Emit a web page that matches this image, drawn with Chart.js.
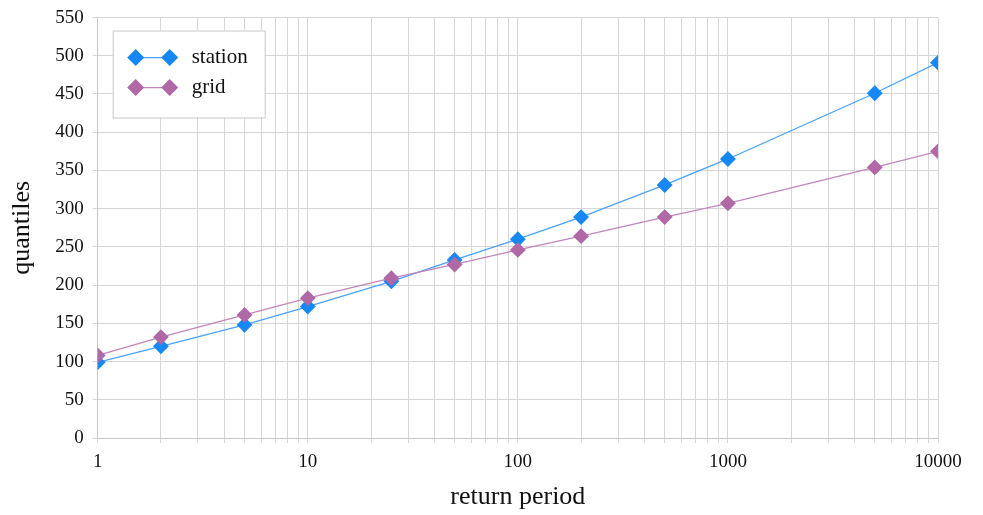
<!DOCTYPE html>
<html>
<head>
<meta charset="utf-8">
<script src="https://cdn.jsdelivr.net/npm/chart.js@4.4.1/dist/chart.umd.min.js"></script>
<style>
  body { margin: 0; background: #fff; }
  #wrap { width: 983px; height: 515px; }
</style>
</head>
<body>
<div id="wrap"><canvas id="quantileChart" width="983" height="515"></canvas></div>
<script>
// return periods (years)
const returnPeriods = [1, 2, 5, 10, 25, 50, 100, 200, 500, 1000, 5000, 10000];
const stationValues = [99, 120, 148, 172, 205, 233, 260, 289, 331, 365, 451, 491];
const gridValues = [108, 132, 161, 183, 209, 227, 246, 264, 289, 307, 354, 375];

const xLabelTicks = [1, 10, 100, 1000, 10000];
const xGridTicks = [1, 2, 3, 4, 5, 6, 7, 8, 9,
  10, 20, 30, 40, 50, 60, 70, 80, 90,
  100, 200, 300, 400, 500, 600, 700, 800, 900,
  1000, 2000, 3000, 4000, 5000, 6000, 7000, 8000, 9000, 10000];

const seriesNames = ['station', 'grid'];
const markerColors = ['#1688f3', '#b068a6'];
const lineColors = ['#4aa3f7', '#c286ba'];

const serif = "'Liberation Serif', 'Times New Roman', serif";

function toPoints(values) {
  return returnPeriods.map((p, i) => ({ x: p, y: values[i] }));
}

function diamond(ctx, x, y, r, color) {
  ctx.beginPath();
  ctx.moveTo(x, y - r);
  ctx.lineTo(x + r, y);
  ctx.lineTo(x, y + r);
  ctx.lineTo(x - r, y);
  ctx.closePath();
  ctx.fillStyle = color;
  ctx.fill();
}

// legend with line + two markers, drawn inside the plot area
const insideLegend = {
  id: 'insideLegend',
  afterDraw(chart) {
    const ctx = chart.ctx;
    const area = chart.chartArea;
    const bx = area.left + 15;
    const by = area.top + 13;
    ctx.save();
    ctx.fillStyle = '#fff';
    ctx.fillRect(bx, by, 152, 87);
    ctx.strokeStyle = '#c8c8c8';
    ctx.lineWidth = 1;
    ctx.strokeRect(bx + 0.5, by + 0.5, 152, 87);
    seriesNames.forEach((name, i) => {
      const y = by + 27 + i * 30;
      const x1 = bx + 23;
      const x2 = bx + 57;
      ctx.strokeStyle = lineColors[i];
      ctx.lineWidth = 1.2;
      ctx.beginPath();
      ctx.moveTo(x1, y);
      ctx.lineTo(x2, y);
      ctx.stroke();
      diamond(ctx, x1, y, 8.5, markerColors[i]);
      diamond(ctx, x2, y, 8.5, markerColors[i]);
      ctx.fillStyle = '#111';
      ctx.font = '21px ' + serif;
      ctx.textBaseline = 'middle';
      ctx.fillText(name, bx + 79, y);
    });
    ctx.restore();
  }
};

new Chart(document.getElementById('quantileChart'), {
  type: 'line',
  data: {
    datasets: [
      {
        label: seriesNames[0],
        data: toPoints(stationValues),
        borderColor: lineColors[0],
        backgroundColor: markerColors[0],
        pointBackgroundColor: markerColors[0],
        pointBorderColor: markerColors[0],
        borderWidth: 1.3,
        pointStyle: 'rectRot',
        pointRadius: 7,
        order: 1
      },
      {
        label: seriesNames[1],
        data: toPoints(gridValues),
        borderColor: lineColors[1],
        backgroundColor: markerColors[1],
        pointBackgroundColor: markerColors[1],
        pointBorderColor: markerColors[1],
        borderWidth: 1.3,
        pointStyle: 'rectRot',
        pointRadius: 7,
        order: 0
      }
    ]
  },
  options: {
    responsive: false,
    animation: false,
    layout: { padding: { top: 5, right: 45, bottom: 2, left: 7 } },
    plugins: {
      legend: { display: false },
      tooltip: { enabled: false }
    },
    scales: {
      x: {
        type: 'logarithmic',
        min: 1,
        max: 10000,
        afterBuildTicks: (axis) => {
          axis.ticks = xGridTicks.map(v => ({ value: v }));
        },
        ticks: {
          autoSkip: false,
          maxRotation: 0,
          color: '#111',
          font: { family: serif, size: 19 },
          padding: 8,
          callback: (value) => xLabelTicks.includes(value) ? String(value) : ''
        },
        grid: { color: '#d6d6d6', tickLength: 5, lineWidth: 1 },
        border: { color: '#c8c8c8' },
        title: {
          display: true,
          text: 'return period',
          color: '#111',
          font: { family: serif, size: 26 },
          padding: { top: 0, bottom: 0 }
        }
      },
      y: {
        min: 0,
        max: 550,
        ticks: {
          stepSize: 50,
          color: '#111',
          font: { family: serif, size: 19, lineHeight: 0.9 },
          padding: 9
        },
        grid: { color: '#d6d6d6', tickLength: 5, lineWidth: 1 },
        border: { color: '#c8c8c8' },
        title: {
          display: true,
          text: 'quantiles',
          color: '#111',
          font: { family: serif, size: 26 },
          padding: { top: 0, bottom: 8 }
        }
      }
    }
  },
  plugins: [insideLegend]
});
</script>
</body>
</html>
